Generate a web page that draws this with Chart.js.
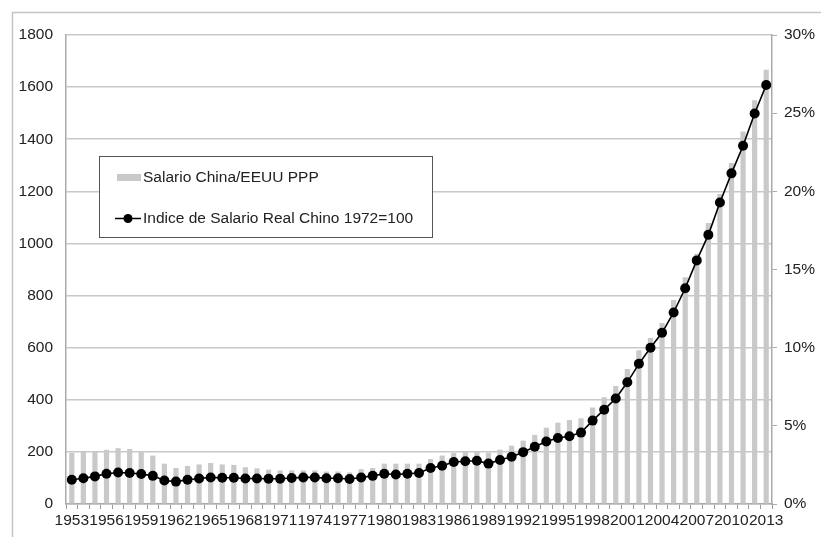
<!DOCTYPE html>
<html>
<head>
<meta charset="utf-8">
<script src="https://cdn.jsdelivr.net/npm/chart.js@4.4.1/dist/chart.umd.min.js"></script>
<style>
    html, body { margin: 0; padding: 0; background: #fff; }
    canvas { display: block; }
</style>
</head>
<body>
<canvas id="salario-chart" width="821" height="537"></canvas>
<script>
var years = ['1953', '1954', '1955', '1956', '1957', '1958', '1959', '1960', '1961', '1962',
             '1963', '1964', '1965', '1966', '1967', '1968', '1969', '1970', '1971', '1972',
             '1973', '1974', '1975', '1976', '1977', '1978', '1979', '1980', '1981', '1982',
             '1983', '1984', '1985', '1986', '1987', '1988', '1989', '1990', '1991', '1992',
             '1993', '1994', '1995', '1996', '1997', '1998', '1999', '2000', '2001', '2002',
             '2003', '2004', '2005', '2006', '2007', '2008', '2009', '2010', '2011', '2012', '2013'];

// only every third year is written under the axis
var shownYears = ['1953', '1956', '1959', '1962', '1965', '1968', '1971', '1974', '1977', '1980', '1983',
                  '1986', '1989', '1992', '1995', '1998', '2001', '2004', '2007', '2010', '2013'];

// Salario China/EEUU PPP (%), right axis
var wageRatio = [3.27, 3.33, 3.33, 3.47, 3.57, 3.52, 3.32, 3.10, 2.58, 2.30,
                 2.43, 2.53, 2.62, 2.53, 2.50, 2.35, 2.28, 2.20, 2.15, 2.15,
                 2.15, 2.15, 2.08, 2.08, 2.02, 2.23, 2.30, 2.58, 2.58, 2.58,
                 2.58, 2.88, 3.10, 3.27, 3.33, 3.33, 3.28, 3.48, 3.73, 4.05,
                 4.42, 4.88, 5.20, 5.37, 5.48, 6.17, 6.83, 7.55, 8.63, 9.83,
                 10.62, 11.58, 13.05, 14.50, 16.00, 17.97, 19.83, 21.82, 23.82, 25.83, 27.77];

// Indice de Salario Real Chino 1972=100, left axis
var wageIndex = [93, 99, 106, 116, 121, 119, 115, 108, 90, 86,
                 93, 98, 102, 101, 101, 98, 98, 97, 97, 100,
                 102, 102, 99, 99, 96, 102, 108, 116, 113, 116,
                 119, 138, 147, 161, 164, 166, 155, 169, 181, 199,
                 220, 240, 253, 260, 274, 320, 362, 405, 467, 538,
                 600, 657, 735, 828, 935, 1033, 1157, 1269, 1375, 1499, 1608];

var leftMax = 1800;
var rightMax = 30;

var tickFont = { family: "'Liberation Sans', Arial, sans-serif", size: 15.5 };
var textColor = '#222';

// grey frame around the whole figure (right and bottom edges fall off the picture)
var framePlugin = {
    id: 'frame',
    beforeDraw: function(chart) {
        var c = chart.ctx;
        c.save();
        c.strokeStyle = '#c4c4c4';
        c.lineWidth = 1.5;
        c.strokeRect(12.5, 12.5, chart.width + 20, chart.height + 20);
        c.restore();
    }
};

// boxed legend sitting inside the plot, upper left
var boxLegendPlugin = {
    id: 'boxLegend',
    afterDraw: function(chart) {
        var c = chart.ctx;
        var bar = chart.data.datasets[1];
        var line = chart.data.datasets[0];
        c.save();
        c.fillStyle = '#fff';
        c.fillRect(99, 156, 333, 81);
        c.strokeStyle = '#555';
        c.lineWidth = 1;
        c.strokeRect(99.5, 156.5, 333, 81);

        c.font = "15.5px 'Liberation Sans', Arial, sans-serif";
        c.textBaseline = 'middle';

        c.fillStyle = bar.backgroundColor;
        c.fillRect(117, 174, 24, 7);
        c.fillStyle = textColor;
        c.fillText(bar.label, 143, 178);

        c.strokeStyle = '#000';
        c.lineWidth = 1.5;
        c.beginPath();
        c.moveTo(115, 218.5);
        c.lineTo(141, 218.5);
        c.stroke();
        c.fillStyle = '#000';
        c.beginPath();
        c.arc(128, 218.5, 4.5, 0, Math.PI * 2);
        c.fill();
        c.fillStyle = textColor;
        c.fillText(line.label, 143, 219);
        c.restore();
    }
};

new Chart(document.getElementById('salario-chart'), {
    type: 'bar',
    data: {
        labels: years,
        datasets: [{
            type: 'line',
            label: 'Indice de Salario Real Chino 1972=100',
            data: wageIndex,
            yAxisID: 'y',
            borderColor: '#000',
            backgroundColor: '#000',
            borderWidth: 1.6,
            pointRadius: 5,
            pointBackgroundColor: '#000',
            pointBorderWidth: 0,
            tension: 0,
            order: 0
        }, {
            type: 'bar',
            label: 'Salario China/EEUU PPP',
            data: wageRatio,
            yAxisID: 'y1',
            backgroundColor: '#c9c9c9',
            barPercentage: 0.45,
            categoryPercentage: 1,
            order: 1
        }]
    },
    options: {
        responsive: false,
        animation: false,
        layout: { padding: { top: 35, left: 0, right: 0, bottom: 0 } },
        plugins: {
            legend: { display: false },
            tooltip: { enabled: false }
        },
        scales: {
            x: {
                grid: {
                    display: true,
                    drawOnChartArea: false,
                    tickLength: 5,
                    color: '#999'
                },
                border: { color: '#aaa', width: 1.5 },
                ticks: {
                    autoSkip: false,
                    maxRotation: 0,
                    minRotation: 0,
                    padding: 2,
                    color: textColor,
                    font: tickFont,
                    callback: function(value, index) {
                        return shownYears.indexOf(years[index]) >= 0 ? years[index] : '';
                    }
                },
                afterFit: function(scale) { scale.height = 33; }
            },
            y: {
                position: 'left',
                min: 0,
                max: leftMax,
                grid: { color: '#c8c8c8', lineWidth: 1.5, drawTicks: false },
                border: { color: '#aaa', width: 1.5 },
                ticks: {
                    stepSize: 200,
                    padding: 13,
                    color: textColor,
                    font: tickFont,
                    callback: function(value) { return String(value); }
                },
                afterFit: function(scale) { scale.width = 66; }
            },
            y1: {
                position: 'right',
                min: 0,
                max: rightMax,
                grid: { drawOnChartArea: false, tickLength: 5, color: '#aaa' },
                border: { color: '#aaa', width: 1.5 },
                ticks: {
                    stepSize: 5,
                    padding: 7,
                    color: textColor,
                    font: tickFont,
                    callback: function(value) { return value + '%'; }
                },
                afterFit: function(scale) { scale.width = 49; }
            }
        }
    },
    plugins: [framePlugin, boxLegendPlugin]
});
</script>
</body>
</html>
